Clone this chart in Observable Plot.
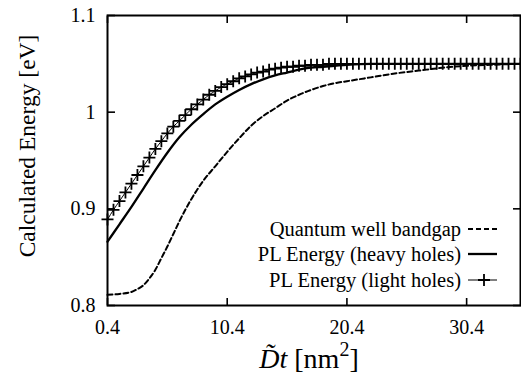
<!DOCTYPE html>
<html><head><meta charset="utf-8">
<script src="https://cdn.jsdelivr.net/npm/d3@7"></script>
<script src="https://cdn.jsdelivr.net/npm/@observablehq/plot@0.6"></script>
<style>body{margin:0;background:#fff} svg{display:block}</style>
</head><body><div id="chart"></div>
<script>
const xTicks = [0.4, 10.4, 20.4, 30.4];
const xTickLabels = ["0.4", "10.4", "20.4", "30.4"];
const yTicks = [0.8, 0.9, 1.0, 1.1];
const yTickLabels = ["0.8", "0.9", "1", "1.1"];
const seriesNames = ["Quantum well bandgap", "PL Energy (heavy holes)", "PL Energy (light holes)"];
const yTitle = "Calculated Energy [eV]";

// Quantum well bandgap (dashed)
const qwX = [0.4, 1.4, 2.4, 2.9, 3.4, 3.9, 4.4, 4.9, 5.4, 5.9, 6.4, 6.9, 7.4, 7.9, 8.4, 9.4, 10.4, 11.4, 12.4, 13.4, 14.4, 15.4, 16.4, 17.4, 18.4, 19.4, 20.4, 22.4, 24.4, 26.4, 28.4, 30.4, 32.4, 34.9];
const qwE = [0.811, 0.812, 0.814, 0.817, 0.821, 0.828, 0.837, 0.849, 0.861, 0.874, 0.887, 0.899, 0.910, 0.920, 0.929, 0.944, 0.959, 0.973, 0.986, 0.996, 1.004, 1.012, 1.018, 1.023, 1.027, 1.030, 1.032, 1.036, 1.040, 1.043, 1.046, 1.048, 1.049, 1.050];

// PL energy, heavy holes (solid)
const hhX = [0.4, 1.4, 2.4, 3.4, 4.4, 5.4, 6.4, 7.4, 8.4, 9.4, 10.4, 11.4, 12.4, 13.4, 14.4, 15.4, 16.4, 17.4, 18.4, 19.4, 20.4, 22.4, 26.4, 30.4, 34.9];
const hhE = [0.866, 0.884, 0.902, 0.921, 0.940, 0.958, 0.974, 0.987, 0.998, 1.008, 1.016, 1.023, 1.029, 1.034, 1.038, 1.041, 1.044, 1.046, 1.047, 1.048, 1.049, 1.050, 1.050, 1.050, 1.050];

// PL energy, light holes (+ markers)
const lhX = [0.4, 0.9, 1.4, 1.9, 2.4, 2.9, 3.4, 3.9, 4.4, 4.9, 5.4, 5.9, 6.4, 6.9, 7.4, 7.9, 8.4, 8.9, 9.4, 9.9,
  10.4, 10.9, 11.4, 11.9, 12.4, 12.9, 13.4, 13.9, 14.4, 14.9, 15.4, 15.9, 16.4, 16.9, 17.4, 17.9, 18.4, 18.9, 19.4, 19.9,
  20.4, 20.9, 21.4, 21.9, 22.4, 22.9, 23.4, 23.9, 24.4, 24.9, 25.4, 25.9, 26.4, 26.9, 27.4, 27.9, 28.4, 28.9, 29.4, 29.9,
  30.4, 30.9, 31.4, 31.9, 32.4, 32.9, 33.4, 33.9, 34.4, 34.9];
const lhE = [0.889, 0.899, 0.908, 0.917, 0.926, 0.935, 0.944, 0.953, 0.962, 0.970, 0.978, 0.985, 0.991, 0.997, 1.003, 1.008, 1.013, 1.018, 1.022, 1.026,
  1.029, 1.032, 1.035, 1.037, 1.039, 1.041, 1.042, 1.044, 1.045, 1.046, 1.047, 1.047, 1.048, 1.048, 1.049, 1.049, 1.049, 1.050, 1.050, 1.050,
  1.050, 1.050, 1.050, 1.050, 1.050, 1.050, 1.050, 1.050, 1.050, 1.050, 1.050, 1.050, 1.050, 1.050, 1.050, 1.050, 1.050, 1.050, 1.050, 1.050,
  1.050, 1.050, 1.050, 1.050, 1.050, 1.050, 1.050, 1.050, 1.050, 1.050];

const qw = qwX.map((x, i) => ({x, e: qwE[i]}));
const hh = hhX.map((x, i) => ({x, e: hhE[i]}));
const lh = lhX.map((x, i) => ({x, e: lhE[i]}));

const plusSymbol = {draw(ctx) { const a = 6; ctx.moveTo(-a, 0); ctx.lineTo(a, 0); ctx.moveTo(0, -a); ctx.lineTo(0, a); }};
const serif = "'Liberation Serif', 'Times New Roman', Times, serif";

const chart = Plot.plot({
  width: 521, height: 377,
  marginLeft: 107, marginRight: 1, marginTop: 15, marginBottom: 72,
  style: {fontFamily: serif, fontSize: "20px", color: "#000", background: "#fff"},
  x: {domain: [0.4, 34.9]},
  y: {domain: [0.8, 1.1]},
  marks: [
    Plot.axisX(xTicks, {anchor: "bottom", tickSize: 0, tickPadding: 14, fontSize: 20, label: null,
      tickFormat: d => xTickLabels[xTicks.indexOf(d)]}),
    Plot.axisX(xTicks, {anchor: "bottom", tickSize: -7, strokeWidth: 1.6, tickFormat: () => "", label: null}),
    Plot.axisX(xTicks, {anchor: "top", tickSize: -7, strokeWidth: 1.6, tickFormat: () => "", label: null}),
    Plot.axisY(yTicks, {anchor: "left", tickSize: 0, tickPadding: 12, fontSize: 20, label: null,
      tickFormat: d => yTickLabels[yTicks.findIndex(t => Math.abs(t - d) < 1e-9)]}),
    Plot.axisY(yTicks, {anchor: "left", tickSize: -8, strokeWidth: 1.6, tickFormat: () => "", label: null}),
    Plot.axisY(yTicks, {anchor: "right", tickSize: -8, strokeWidth: 1.6, tickFormat: () => "", label: null}),
    Plot.line(qw, {x: "x", y: "e", stroke: "#000", strokeWidth: 2, strokeDasharray: "5,3", curve: "monotone-x"}),
    Plot.line(hh, {x: "x", y: "e", stroke: "#000", strokeWidth: 2.3, curve: "monotone-x"}),
    Plot.line(lh, {x: "x", y: "e", stroke: "#000", strokeWidth: 1, curve: "monotone-x"}),
    Plot.dot(lh, {x: "x", y: "e", symbol: plusSymbol, r: 6, fill: "none", stroke: "#000", strokeWidth: 1.8}),
    Plot.frame({stroke: "#000", strokeWidth: 2})
  ]
});

const svg = d3.select(chart);
// legend
const legendRows = [236, 261, 287];
const lg = svg.append("g").style("font-family", serif).style("font-size", "20.5px");
seriesNames.forEach((name, i) => {
  lg.append("text").attr("x", 461).attr("y", legendRows[i]).attr("text-anchor", "end").attr("fill", "#000").text(name);
  const ly = legendRows[i] - 7;
  const ln = lg.append("line").attr("x1", 468).attr("x2", 497).attr("y1", ly).attr("y2", ly).attr("stroke", "#000");
  if (i === 0) ln.attr("stroke-width", 2).attr("stroke-dasharray", "5,3");
  else if (i === 1) ln.attr("stroke-width", 2.3);
  else {
    ln.attr("stroke-width", 1);
    lg.append("path").attr("d", `M${484 - 6},${ly}h12M484,${ly - 6}v12`).attr("stroke", "#000").attr("stroke-width", 1.8).attr("fill", "none");
  }
});
// y title
svg.append("text").attr("transform", "translate(35,146) rotate(-90)").attr("text-anchor", "middle")
  .style("font-family", serif).style("font-size", "23.5px").attr("fill", "#000").text(yTitle);
// x title
const xt = svg.append("text").attr("x", 309).attr("y", 368).attr("text-anchor", "middle")
  .style("font-family", serif).style("font-size", "28px").attr("fill", "#000");
xt.append("tspan").style("font-style", "italic").text("D\u0303t");
xt.append("tspan").text(" [nm");
xt.append("tspan").attr("dy", -12).style("font-size", "20px").text("2");
xt.append("tspan").attr("dy", 12).text("]");

document.getElementById("chart").append(chart);
</script>
</body></html>
